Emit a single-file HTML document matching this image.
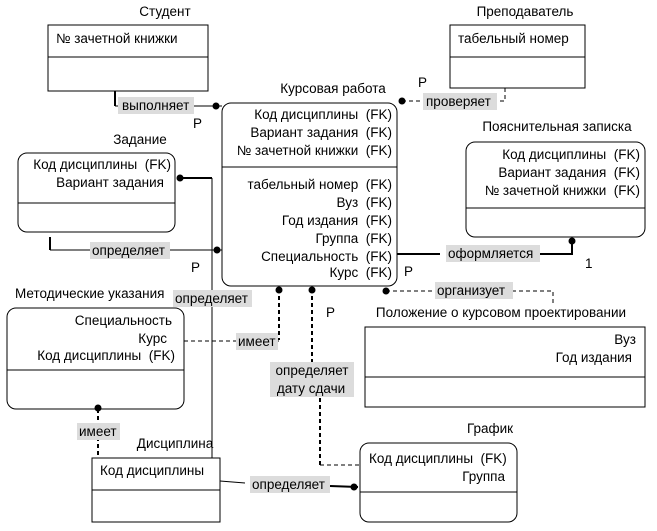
<!DOCTYPE html>
<html><head><meta charset="utf-8"><style>
html,body{margin:0;padding:0;background:#fff;}
svg{display:block;}
text{font-family:"Liberation Sans","DejaVu Sans",sans-serif;font-size:13.5px;fill:#000;white-space:pre;}
.r{text-anchor:end;}
.m{text-anchor:middle;}
.box{fill:#fff;stroke:#000;stroke-width:1;}
.ln{fill:none;stroke:#000;stroke-width:1;}
.lnb{fill:none;stroke:#000;stroke-width:2;}
.ds{fill:none;stroke:#000;stroke-width:1;stroke-dasharray:4,3;}
.dsb{fill:none;stroke:#000;stroke-width:2;stroke-dasharray:4,3;}
.lb{fill:#dcdcdc;}
</style></head><body>
<svg width="657" height="531" viewBox="0 0 657 531" xmlns="http://www.w3.org/2000/svg" xml:space="preserve">
<polyline class="lnb" points="115,91 115,106"/><polyline class="ln" points="115,106 222,106"/>
<polyline class="ds" points="505,88 505,101 400,101"/>
<polyline class="lnb" points="178,178 212,178"/><polyline class="ln" points="212,178 212,458"/>
<polyline class="lnb" points="50,237 50,250"/><polyline class="ln" points="50,250 222,250"/>
<polyline class="lnb" points="397,254 440,254"/><polyline class="lnb" points="540,254 572,254 572,240"/>
<polyline class="dsb" points="279,289 279,340"/><polyline class="ds" points="279,341 184,341"/>
<polyline class="dsb" points="312,289 312,362"/>
<polyline class="dsb" points="320,398 320,465"/><polyline class="ds" points="320,465 360,465"/>
<polyline class="ds" points="386,291 553,291 553,303"/>
<polyline class="dsb" points="98,409 98,458"/>
<polyline class="ln" points="220,481 245,483"/><polyline class="lnb" points="330,486 358,487"/>
<rect class="box" x="48" y="25" width="160" height="66"/><line class="ln" x1="48" y1="57" x2="208" y2="57"/>
<rect class="box" x="450" y="25" width="135" height="63"/><line class="ln" x1="450" y1="57" x2="585" y2="57"/>
<rect class="box" x="222" y="103" width="175" height="183" rx="9"/><line class="ln" x1="222" y1="167" x2="397" y2="167"/>
<rect class="box" x="18" y="153" width="157" height="79" rx="9"/><line class="ln" x1="18" y1="203" x2="175" y2="203"/>
<rect class="box" x="466" y="142" width="179" height="95" rx="9"/><line class="ln" x1="466" y1="208" x2="645" y2="208"/>
<rect class="box" x="7" y="308" width="177" height="101" rx="9"/><line class="ln" x1="7" y1="370" x2="184" y2="370"/>
<rect class="box" x="365" y="327" width="280" height="80"/><line class="ln" x1="365" y1="377" x2="645" y2="377"/>
<rect class="box" x="92" y="458" width="128" height="64"/><line class="ln" x1="92" y1="490" x2="220" y2="490"/>
<rect class="box" x="360" y="443" width="157" height="79" rx="9"/><line class="ln" x1="360" y1="492" x2="517" y2="492"/>
<g fill="#000">
<circle cx="216" cy="106" r="3.5"/><circle cx="402" cy="101" r="3.5"/><circle cx="180" cy="178" r="3.5"/>
<circle cx="217" cy="250" r="3.5"/><circle cx="572" cy="241" r="3.5"/><circle cx="279" cy="290" r="3.5"/>
<circle cx="312" cy="290" r="3.5"/><circle cx="386" cy="291" r="3.5"/><circle cx="98" cy="408" r="3.5"/>
<circle cx="354" cy="487" r="3.5"/>
</g>
<rect class="lb" x="118" y="97" width="76" height="17"/>
<rect class="lb" x="423" y="93" width="74" height="17"/>
<rect class="lb" x="90" y="242" width="80" height="17"/>
<rect class="lb" x="173" y="290" width="79" height="17"/>
<rect class="lb" x="446" y="245" width="94" height="17"/>
<rect class="lb" x="236" y="333" width="42" height="17"/>
<rect class="lb" x="270" y="362" width="84" height="35"/>
<rect class="lb" x="435" y="282" width="78" height="17"/>
<rect class="lb" x="77" y="423" width="43" height="17"/>
<rect class="lb" x="250" y="476" width="80" height="17"/>
<text class="m" x="165" y="16">Студент</text>
<text class="m" x="525" y="16">Преподаватель</text>
<text class="m" x="333" y="93">Курсовая работа</text>
<text class="m" x="140" y="144">Задание</text>
<text class="m" x="557" y="131">Пояснительная записка</text>
<text x="15" y="298">Методические указания</text>
<text class="m" x="501" y="317">Положение о курсовом проектировании</text>
<text class="m" x="175" y="448">Дисциплина</text>
<text class="m" x="490" y="433">График</text>
<text x="56" y="43">№ зачетной книжки</text>
<text x="458" y="43">табельный номер</text>
<text class="r" x="392" y="119">Код дисциплины  (FK)</text>
<text class="r" x="392" y="137">Вариант задания  (FK)</text>
<text class="r" x="392" y="155">№ зачетной книжки  (FK)</text>
<text class="r" x="392" y="189">табельный номер  (FK)</text>
<text class="r" x="392" y="207">Вуз  (FK)</text>
<text class="r" x="392" y="225">Год издания  (FK)</text>
<text class="r" x="392" y="243">Группа  (FK)</text>
<text class="r" x="392" y="261">Специальность  (FK)</text>
<text class="r" x="392" y="277">Курс  (FK)</text>
<text class="r" x="171" y="169">Код дисциплины  (FK)</text>
<text class="r" x="164" y="187">Вариант задания</text>
<text class="r" x="640" y="159">Код дисциплины  (FK)</text>
<text class="r" x="640" y="177">Вариант задания  (FK)</text>
<text class="r" x="640" y="195">№ зачетной книжки  (FK)</text>
<text class="r" x="172" y="325">Специальность</text>
<text class="r" x="167" y="343">Курс</text>
<text class="r" x="175" y="360">Код дисциплины  (FK)</text>
<text class="r" x="636" y="344">Вуз</text>
<text class="r" x="632" y="362">Год издания</text>
<text x="100" y="475">Код дисциплины</text>
<text x="369" y="463">Код дисциплины  (FK)</text>
<text class="r" x="505" y="481">Группа</text>
<text x="122" y="110">выполняет</text>
<text x="426" y="106">проверяет</text>
<text x="92" y="255">определяет</text>
<text x="175" y="303">определяет</text>
<text x="448" y="258">оформляется</text>
<text x="238" y="346">имеет</text>
<text class="m" x="312" y="375">определяет</text>
<text class="m" x="311" y="393">дату сдачи</text>
<text x="437" y="295">организует</text>
<text x="79" y="436">имеет</text>
<text x="252" y="489">определяет</text>
<text x="193" y="128">P</text>
<text x="418" y="87">P</text>
<text x="191" y="272">P</text>
<text x="404" y="276">P</text>
<text x="326" y="317">P</text>
<text x="585" y="268">1</text>
</svg>
</body></html>
